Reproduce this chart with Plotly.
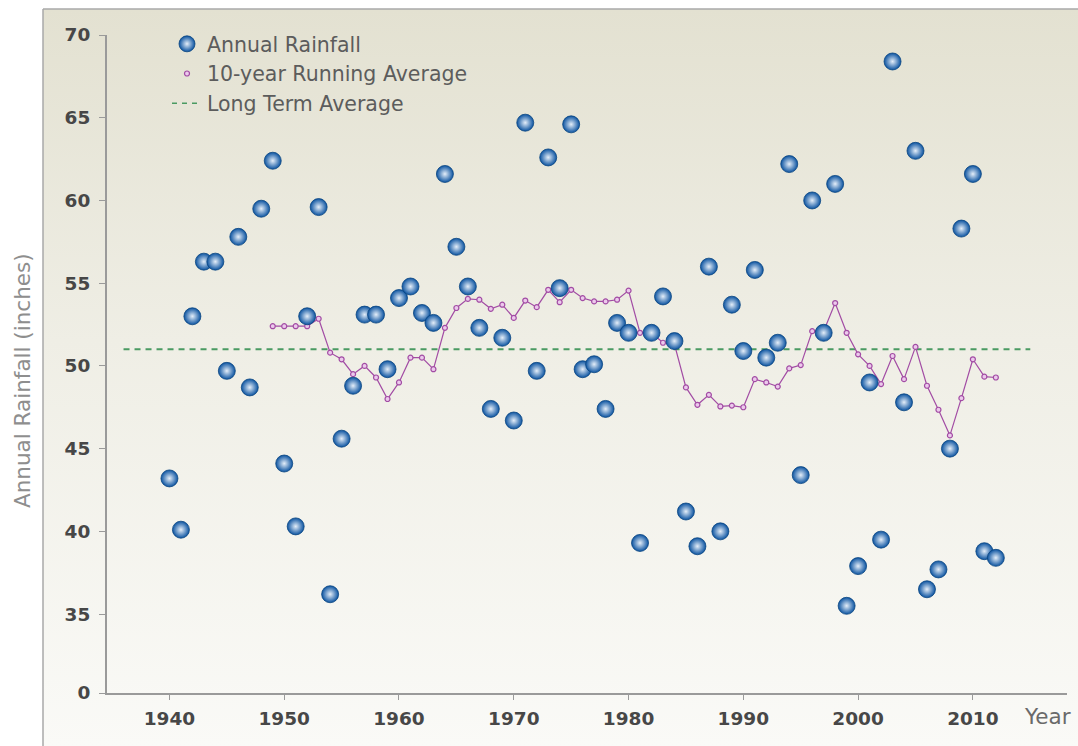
import base64
import plotly.graph_objects as go

# ---------------- data ----------------
years = list(range(1940, 2013))
annual_rainfall = [
    43.2, 40.1, 53.0, 56.3, 56.3, 49.7, 57.8, 48.7, 59.5, 62.4,   # 1940-1949
    44.1, 40.3, 53.0, 59.6, 36.2, 45.6, 48.8, 53.1, 53.1, 49.8,   # 1950-1959
    54.1, 54.8, 53.2, 52.6, 61.6, 57.2, 54.8, 52.3, 47.4, 51.7,   # 1960-1969
    46.7, 64.7, 49.7, 62.6, 54.7, 64.6, 49.8, 50.1, 47.4, 52.6,   # 1970-1979
    52.0, 39.3, 52.0, 54.2, 51.5, 41.2, 39.1, 56.0, 40.0, 53.7,   # 1980-1989
    50.9, 55.8, 50.5, 51.4, 62.2, 43.4, 60.0, 52.0, 61.0, 35.5,   # 1990-1999
    37.9, 49.0, 39.5, 68.4, 47.8, 63.0, 36.5, 37.7, 45.0, 58.3,   # 2000-2009
    61.6, 38.8, 38.4,                                             # 2010-2012
]

run_years = list(range(1949, 2013))
running_avg = [
    52.4,                                                          # 1949
    52.4, 52.4, 52.4, 52.85, 50.8, 50.4, 49.5, 50.0, 49.3, 48.0,   # 1950-1959
    49.0, 50.5, 50.5, 49.8, 52.3, 53.5, 54.05, 54.0, 53.45, 53.7,  # 1960-1969
    52.9, 53.95, 53.55, 54.6, 53.85, 54.6, 54.1, 53.9, 53.9, 54.0, # 1970-1979
    54.55, 52.0, 52.0, 51.4, 51.3, 48.7, 47.65, 48.25, 47.55, 47.6,# 1980-1989
    47.5, 49.2, 49.0, 48.75, 49.85, 50.05, 52.1, 52.1, 53.8, 52.0, # 1990-1999
    50.7, 50.0, 48.9, 50.6, 49.2, 51.15, 48.8, 47.35, 45.8, 48.05, # 2000-2009
    50.4, 49.35, 49.3,                                             # 2010-2012
]

long_term_years = [1936, 2015]
long_term_avg = 51.0

x_tickvals = [1940, 1950, 1960, 1970, 1980, 1990, 2000, 2010]
x_ticktext = ["1940", "1950", "1960", "1970", "1980", "1990", "2000", "2010"]
y_tickvals = [30.23, 35, 40, 45, 50, 55, 60, 65, 70]   # broken axis: "0" sits just below 35
y_ticktext = ["0", "35", "40", "45", "50", "55", "60", "65", "70"]

# ---------------- styles ----------------
BLUE_EDGE = "#0a52a0"
BLUE_CENTER = "#e4eef9"
PURPLE = "#a24ca4"
PURPLE_FILL = "#ecc9ec"
GREEN = "#4a9a62"
TICK_FONT = dict(family="DejaVu Sans", size=18.5, color="#474747", weight="bold")
LEG_FONT = dict(family="DejaVu Sans", size=20.5, color="#5c5c5c")

fig = go.Figure()

# Long-term average (dashed green)
fig.add_trace(go.Scatter(
    x=long_term_years, y=[long_term_avg] * len(long_term_years),
    mode="lines", name="Long Term Average",
    line=dict(color=GREEN, width=2, dash="6px,5px"),
    showlegend=False, hoverinfo="skip",
))

# 10-year running average
fig.add_trace(go.Scatter(
    x=run_years, y=running_avg, mode="lines+markers",
    name="10-year Running Average",
    line=dict(color=PURPLE, width=1.2),
    marker=dict(size=5, color=PURPLE_FILL, line=dict(color=PURPLE, width=1.2)),
    showlegend=False,
))

# Annual rainfall (shaded spheres; gradient colour is the centre highlight)
fig.add_trace(go.Scatter(
    x=years, y=annual_rainfall, mode="markers", name="Annual Rainfall",
    marker=dict(size=17, color=BLUE_EDGE,
                gradient=dict(type="radial", color=BLUE_CENTER),
                line=dict(color="#0a4580", width=0.8)),
    showlegend=True, legendrank=1,
))

# legend-only entries (styled like the original legend)
fig.add_trace(go.Scatter(
    x=[None], y=[None], mode="markers", name="10-year Running Average",
    marker=dict(size=5, color=PURPLE_FILL, line=dict(color=PURPLE, width=1.2)),
    showlegend=True, legendrank=2,
))
fig.add_trace(go.Scatter(
    x=[None], y=[None], mode="lines", name="Long Term Average",
    line=dict(color=GREEN, width=1.5, dash="5px,5px"),
    showlegend=True, legendrank=3,
))

# gradient background panel
svg = ('<svg xmlns="http://www.w3.org/2000/svg" width="200" height="200" viewBox="0 0 200 200" '
       'preserveAspectRatio="none"><defs><linearGradient id="g" x1="0" y1="0" x2="0" y2="1">'
       '<stop offset="0" stop-color="#e3e1d1"/><stop offset="0.45" stop-color="#efeee5"/>'
       '<stop offset="1" stop-color="#fafaf7"/></linearGradient></defs>'
       '<rect width="200" height="200" fill="url(#g)"/></svg>')
svg_uri = "data:image/svg+xml;base64," + base64.b64encode(svg.encode()).decode()

L, R, T, B = 107, 11, 35, 53
W, H = 1078, 746
pw, ph = W - L - R, H - T - B


def px_x(px):
    return (px - L) / pw


def px_y(py):
    return (H - B - py) / ph


panel_left, panel_top = 43, 9

fig.update_layout(
    width=W, height=H,
    margin=dict(l=L, r=R, t=T, b=B, pad=0),
    paper_bgcolor="white",
    plot_bgcolor="rgba(0,0,0,0)",
    images=[dict(
        source=svg_uri, xref="paper", yref="paper",
        x=px_x(panel_left), y=px_y(panel_top),
        sizex=px_x(W) - px_x(panel_left), sizey=px_y(panel_top) - px_y(H),
        xanchor="left", yanchor="top", sizing="stretch", layer="below",
    )],
    shapes=[
        dict(type="line", xref="paper", yref="paper",
             x0=px_x(panel_left), x1=px_x(panel_left), y0=px_y(H), y1=px_y(panel_top),
             line=dict(color="#a8a8a8", width=1.5)),
        dict(type="line", xref="paper", yref="paper",
             x0=px_x(panel_left), x1=px_x(W), y0=px_y(panel_top), y1=px_y(panel_top),
             line=dict(color="#a8a8a8", width=1.5)),
    ],
    xaxis=dict(
        range=[1934.56, 2018.2], showgrid=False, zeroline=False,
        showline=True, linecolor="#9a9a9a", linewidth=2,
        ticks="outside", ticklen=5, tickcolor="#9a9a9a", tickwidth=1,
        tickvals=x_tickvals, ticktext=x_ticktext,
        tickfont=TICK_FONT, ticklabelstandoff=3,
        fixedrange=True,
    ),
    yaxis=dict(
        range=[30.23, 70], showgrid=False, zeroline=False,
        showline=True, linecolor="#9a9a9a", linewidth=2,
        ticks="outside", ticklen=6, tickcolor="#9a9a9a", tickwidth=1,
        tickvals=y_tickvals, ticktext=y_ticktext,
        tickfont=TICK_FONT, ticklabelstandoff=5,
        fixedrange=True,
    ),
    legend=dict(
        x=px_x(167), y=px_y(24), xanchor="left", yanchor="top",
        bgcolor="rgba(0,0,0,0)", borderwidth=0,
        font=LEG_FONT, tracegroupgap=0, itemwidth=30,
    ),
    annotations=[
        dict(text="Annual Rainfall (inches)", xref="paper", yref="paper",
             x=px_x(22), y=px_y(381), textangle=-90, showarrow=False,
             xanchor="center", yanchor="middle",
             font=dict(family="DejaVu Sans", size=21.5, color="#8e8e8e")),
        dict(text="Year", xref="paper", yref="paper",
             x=px_x(1047), y=px_y(716), showarrow=False,
             xanchor="center", yanchor="middle",
             font=dict(family="DejaVu Sans", size=21.5, color="#6a6a6a")),
    ],
    showlegend=True,
)

fig.write_html("out.html", config={"displayModeBar": False},
               post_script="document.body.style.margin='0';")
